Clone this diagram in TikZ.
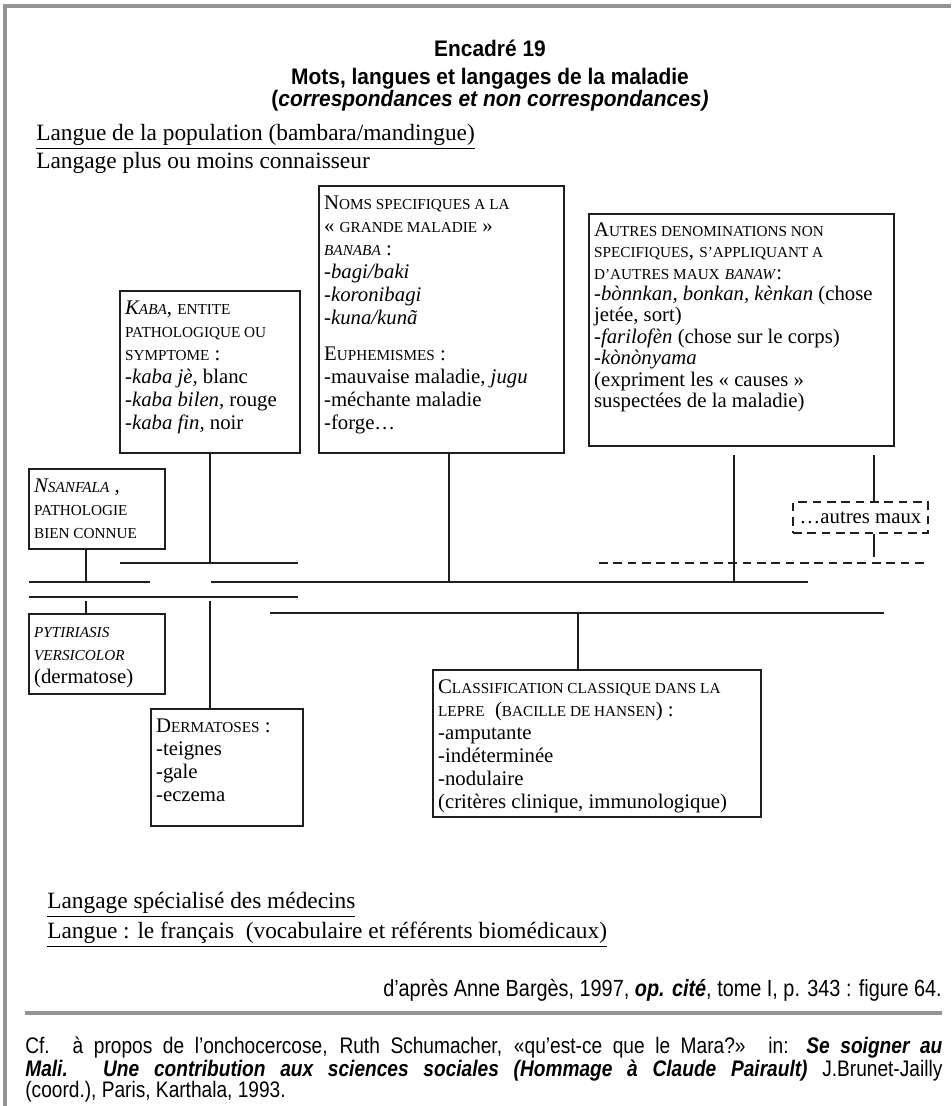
\documentclass[tikz,border=0pt]{standalone}
\usepackage{fontspec}
\setmainfont{Liberation Serif}
\newfontfamily\etroit[FakeStretch=0.85]{Liberation Sans}
\newfontfamily\titrefont[FakeStretch=0.93]{Liberation Sans}
\usetikzlibrary{positioning,calc}
\newdimen\px \px=0.578pt
% petites capitales faites a la main
\newcommand{\pc}[1]{{\fontsize{8.8}{10}\selectfont #1}}
% texte d'un cadre: largeur, hauteur (en px), lignes
\newcommand{\cadretxt}[3]{\parbox[t][#2\px][t]{#1\px}{\raggedright\vspace*{7\px}\strut #3}}

\begin{document}
\begin{tikzpicture}[x=0.578pt,y=-0.578pt,
  trait/.style={line width=1.2pt,draw=black!88},
  tirets/.style={dash pattern=on 5pt off 3.3pt},
  cadre/.style={draw=black!88,line width=1.3pt,anchor=north west,inner xsep=2.9pt,inner ysep=0pt,
    font=\fontsize{12}{13.3}\selectfont},
  entete/.style={font=\fontsize{13.5}{15}\selectfont,anchor=west,inner sep=0pt},
  titre/.style={font=\titrefont\bfseries\fontsize{13}{12.7}\selectfont,align=center,inner sep=0pt},
  source/.style={font=\etroit\fontsize{13.5}{15}\selectfont,inner sep=0pt}]
\useasboundingbox (0,0) rectangle (951,1106);
% filets gris de la page
\draw[black!42,line width=1.8pt] (951,6) -- (5,6) -- (5,1106);
\draw[black!42,line width=1.8pt] (25,1013) -- (942,1013);

% titre
\node[titre,anchor=north] (titre) at (490,40) {Encadré 19\\[3.5pt]
  Mots, langues et langages de la maladie\\ (\textit{correspondances et non correspondances)}};

\node[entete] (pop) at (36,137) {\underline{Langue de la population (bambara/mandingue)}};
\node[entete] (conn) at (36,163) {Langage plus ou moins connaisseur};

% cadres
\node[cadre] (noms) at (318,185) {\cadretxt{235}{267}{N\pc{OMS SPECIFIQUES A LA}\\ « \pc{GRANDE MALADIE} »\\
  \textit{\pc{BANABA}} :\\ -\textit{bagi/baki}\\ -\textit{koronibagi}\\ -\textit{kuna/kunã}\\[13\px]
  E\pc{UPHEMISMES} :\\ -mauvaise maladie, \textit{jugu}\\ -méchante maladie\\ -forge…}};
\node[cadre] (kaba) at (119,290) {\cadretxt{170}{162}{\textit{K\pc{ABA}}, \pc{ENTITE}\\ \pc{PATHOLOGIQUE OU}\\
  \pc{SYMPTOME} :\\ -\textit{kaba jè,} blanc\\ -\textit{kaba bilen,} rouge\\ -\textit{kaba fin,} noir}};
\node[cadre,font=\fontsize{12}{12.4}\selectfont] (autres) at (588,213) {\cadretxt{295}{232}{A\pc{UTRES DENOMINATIONS NON}\\
  \pc{SPECIFIQUES}, \pc{S’APPLIQUANT A}\\ \pc{D’AUTRES MAUX} \textit{\pc{BANAW}}:\\
  -\textit{bònnkan, bonkan, kènkan} (chose\\ jetée, sort)\\ -\textit{farilofèn} (chose sur le corps)\\
  -\textit{kònònyama}\\ (expriment les « causes »\\ suspectées de la maladie)}};
\node[cadre] (nsan) at (28,468) {\cadretxt{126}{80}{\textit{N\pc{SANFALA}} ,\\ \pc{PATHOLOGIE}\\ \pc{BIEN CONNUE}}};
\node[cadre] (pyt) at (28,613) {\cadretxt{126}{80}{\textit{\pc{PYTIRIASIS}}\\ \textit{\pc{VERSICOLOR}}\\ (dermatose)}};
\node[cadre] (derm) at (150,708) {\cadretxt{142}{117}{D\pc{ERMATOSES} :\\ -teignes\\ -gale\\ -eczema}};
\node[cadre] (classif) at (432,669) {\cadretxt{318}{147}{C\pc{LASSIFICATION CLASSIQUE DANS LA}\\
  \pc{LEPRE}\ \ (\pc{BACILLE DE HANSEN}) :\\ -amputante\\ -indéterminée\\ -nodulaire\\
  (critères clinique, immunologique)}};
\node[draw=black!88,line width=1.2pt,tirets,minimum width=135\px,minimum height=31\px,inner sep=0pt,
  font=\fontsize{12}{13.3}\selectfont] (maux) at (860.5,517.5) {…autres maux};

% barres horizontales
\draw[trait] (120,563) coordinate (a1) -- (298,563);
\draw[trait] (29,582) coordinate (b1) -- (150,582);
\draw[trait] (211,582) -- (808,582);
\draw[trait] (29,597) coordinate (c1) -- (298,597);
\draw[trait] (270,613) coordinate (d1) -- (884,613);
\draw[trait,tirets] (599,563) coordinate (e1) -- (928,563);

% abscisses des liaisons
\coordinate (xn) at (86,0);
\coordinate (xk) at (210,0);
\coordinate (xb) at (449,0);
\coordinate (xc) at (578,0);
\coordinate (xa) at (734,0);
\coordinate (xm) at (874,0);

% liaisons
\draw[trait] (kaba.south -| xk) -- (xk |- a1);
\draw[trait] (nsan.south -| xn) -- (xn |- b1);
\draw[trait] (noms.south -| xb) -- (xb |- b1);
\draw[trait] ([yshift=-4.6pt]autres.south -| xa) -- (xa |- b1);
\draw[trait] ([yshift=-4.6pt]autres.south -| xm) -- (maux.north -| xm);
\draw[trait] (maux.south -| xm) -- ([yshift=3.5pt]xm |- e1);
\draw[trait] ([yshift=-2.3pt]xn |- c1) -- (pyt.north -| xn);
\draw[trait] ([yshift=-2.3pt]xk |- c1) -- (derm.north -| xk);
\draw[trait] (xc |- d1) -- (classif.north -| xc);

% bas de page
\node[entete] (spec) at (47,905) {\underline{Langage spécialisé des médecins}};
\node[entete] (fr) at (47,935) {\underline{Langue : le français\ \ (vocabulaire et référents biomédicaux)}};
\node[source,anchor=east] (src) at (942,990) {d’après Anne Bargès, 1997, \textbf{\textit{op. cité}}, tome I, p. 343 : figure 64.};
\node[anchor=north west,inner sep=0pt] (cf) at (25,1037) {\parbox[t]{917\px}{\etroit\fontsize{13}{12.2}\selectfont\sloppy
  Cf. à propos de l’onchocercose, Ruth Schumacher, «qu’est-ce que le Mara?» in: \textbf{\textit{Se soigner au}}\linebreak
  \textbf{\textit{Mali. Une contribution aux sciences sociales (Hommage à Claude Pairault)}} J.Brunet-Jailly\linebreak
  (coord.), Paris, Karthala, 1993.}};
\end{tikzpicture}
\end{document}
